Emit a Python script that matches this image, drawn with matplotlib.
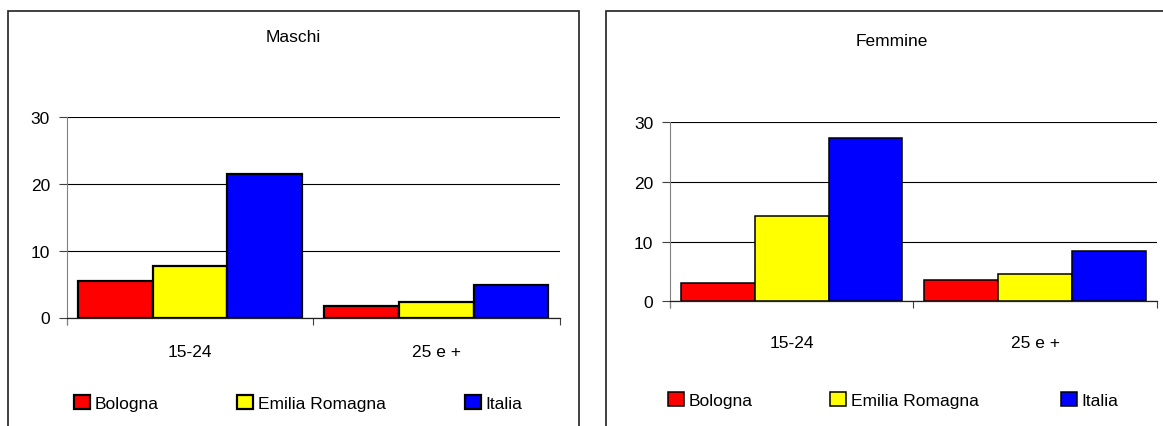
import matplotlib
matplotlib.use("Agg")
import matplotlib.pyplot as plt
from matplotlib import font_manager
from matplotlib.patches import Rectangle
import numpy as np

# DATI
categorie = ["15-24", "25 e +"]
serie = ["Bologna", "Emilia Romagna", "Italia"]
colori = ["#ff0000", "#ffff00", "#0000ff"]
maschi = {"Bologna": [5.5, 1.7], "Emilia Romagna": [7.7, 2.3], "Italia": [21.5, 4.9]}
femmine = {"Bologna": [3.0, 3.6], "Emilia Romagna": [14.3, 4.6], "Italia": [27.3, 8.4]}
yticks = [0, 10, 20, 30]

nomi = {f.name for f in font_manager.fontManager.ttflist}
if "Liberation Sans Narrow" in nomi:
    fam, fs = "Liberation Sans Narrow", 14.5
else:
    fam, fs = "Liberation Sans", 12.5
plt.rcParams["font.family"] = [fam, "DejaVu Sans"]

W, H = 1163, 427
fig = plt.figure(figsize=(W / 100, H / 100), dpi=100)


def fx(px):
    return px / W


def fy(py):
    return 1 - py / H


# cornici dei due pannelli
fig.patches.append(Rectangle((fx(8), fy(440)), fx(571), fy(12) - fy(440),
                             transform=fig.transFigure, fill=False,
                             edgecolor="#202020", lw=1.2))
fig.patches.append(Rectangle((fx(606), fy(440)), fx(600), fy(12) - fy(440),
                             transform=fig.transFigure, fill=False,
                             edgecolor="#202020", lw=1.2))

pannelli = [
    # (titolo, dati, box assi px [x0, x1, y0, y30], titolo xy, lw bordo, pad etichette, legenda)
    ("Maschi", maschi, (66.7, 559.7, 318.5, 118.3), (293.5, 38), 1.6, 19,
     [(73, 404), (236, 404), (464, 404)]),
    ("Femmine", femmine, (670, 1156.7, 302.3, 123.3), (892, 41), 1.1, 24,
     [(667, 401), (829, 401), (1060, 401)]),
]

w = 0.303
x = np.arange(len(categorie))
for titolo, dati, (x0, x1, y0, y30), (tx, ty), lw, pad, leg in pannelli:
    ax = fig.add_axes([fx(x0), fy(y0), fx(x1 - x0), fy(y30) - fy(y0)])
    barre = []
    for k, s in enumerate(serie):
        b = ax.bar(x + (k - 1) * w, dati[s], w, color=colori[k],
                   edgecolor="black", linewidth=lw, zorder=3)
        barre.append(b)
    ax.set_xlim(-0.5, 1.5)
    ax.set_ylim(0, 30)
    ax.set_yticks(yticks)
    ax.set_yticklabels([str(v) for v in yticks], fontsize=fs)
    ax.tick_params(axis="y", length=5.5, width=0.8, color="#404040", pad=6.5)
    ax.set_xticks([-0.5, 0.5, 1.5])
    ax.set_xticklabels([])
    ax.tick_params(axis="x", which="major", length=5, width=0.8, color="#404040")
    ax.set_xticks(x, minor=True)
    ax.set_xticklabels(categorie, minor=True, fontsize=fs)
    ax.tick_params(axis="x", which="minor", length=0, pad=pad)
    ax.grid(axis="y", color="black", lw=0.8, zorder=0)
    for sp in ["top", "right"]:
        ax.spines[sp].set_visible(False)
    ax.spines["left"].set_color("#808080")
    ax.spines["left"].set_bounds(-0.9, 30)
    ax.spines["bottom"].set_color("#202020")
    ax.spines["bottom"].set_linewidth(0.9)
    ax.set_facecolor("none")
    fig.text(fx(tx), fy(ty), titolo, ha="center", va="center", fontsize=fs)

    for b, s, (lx, ly) in zip(barre, serie, leg):
        fig.legend([b], [s], loc="center left",
                   bbox_to_anchor=(fx(lx + 1), fy(ly)), frameon=False,
                   fontsize=fs, handlelength=0.9, handleheight=0.9,
                   handletextpad=0.3, borderpad=0, borderaxespad=0)

fig.savefig("out.png", dpi=100)
